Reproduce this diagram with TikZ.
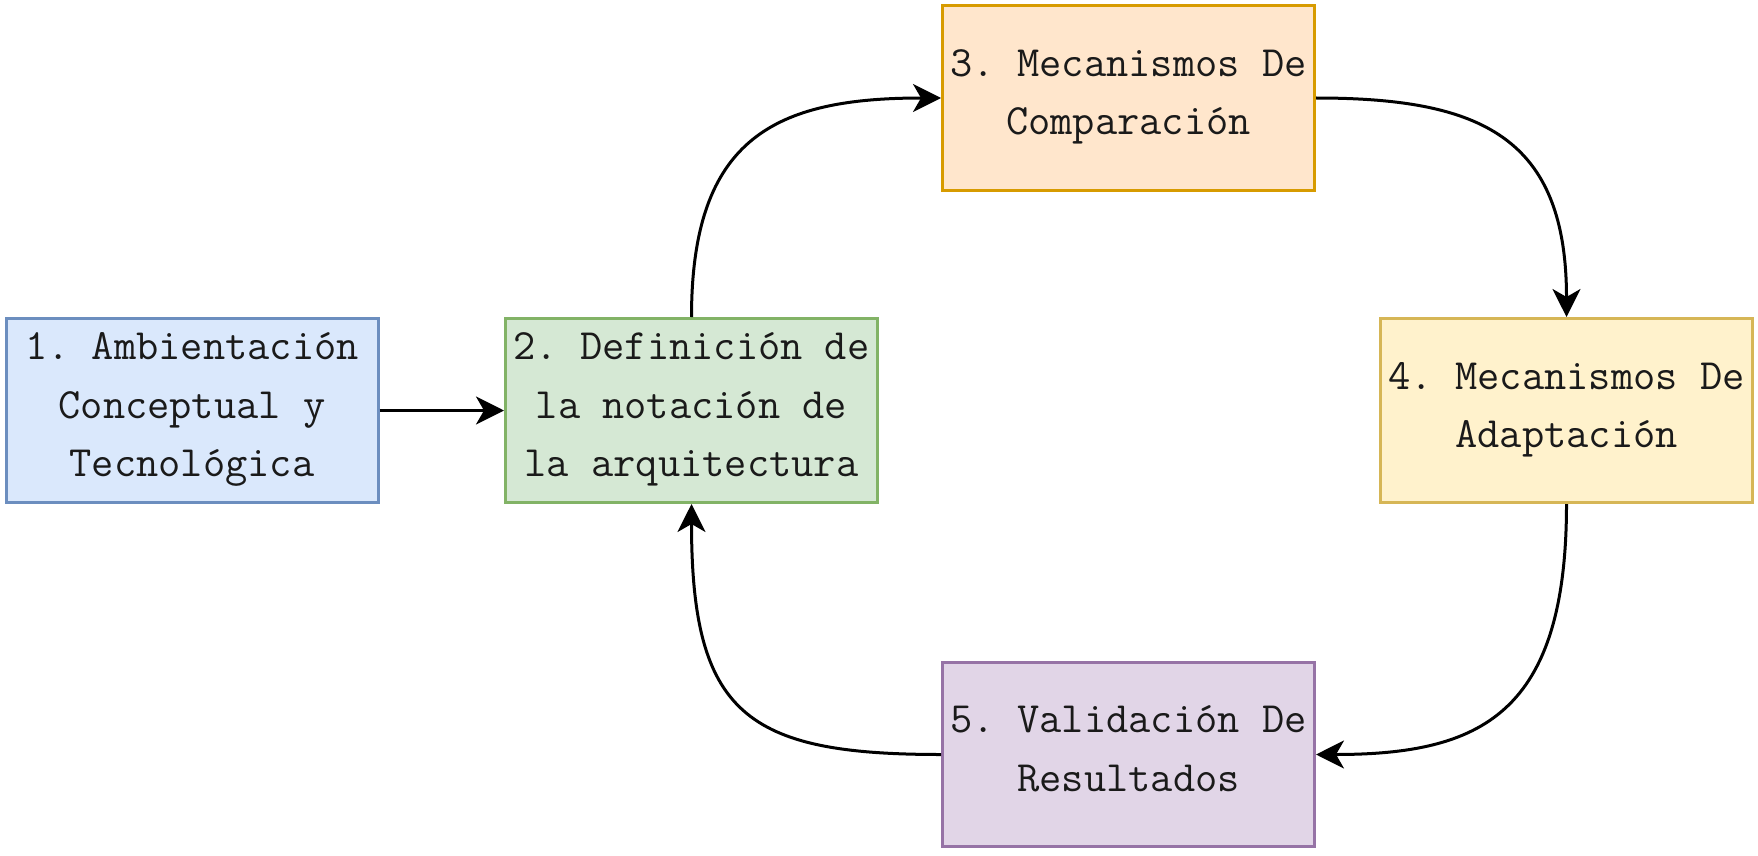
\documentclass[tikz,border=0pt]{standalone}
\usepackage{fontspec}
\usetikzlibrary{arrows.meta}
\definecolor{f1}{HTML}{DAE8FC}\definecolor{s1}{HTML}{6C8EBF}
\definecolor{f2}{HTML}{D5E8D4}\definecolor{s2}{HTML}{82B366}
\definecolor{f3}{HTML}{FFE6CC}\definecolor{s3}{HTML}{D79B00}
\definecolor{f4}{HTML}{FFF2CC}\definecolor{s4}{HTML}{D6B656}
\definecolor{f5}{HTML}{E1D5E7}\definecolor{s5}{HTML}{9673A6}
\definecolor{txt}{HTML}{1A1A1A}
\newcommand\mystrutbox{\rule[-11.5pt]{0pt}{58.5pt}}
\frenchspacing
\tikzset{
  stepbox/.style={draw, line width=3pt, inner sep=0pt, minimum width=372pt, minimum height=184pt,
    align=center, text=txt, font=\ttfamily\frenchspacing\fontsize{43.2}{58.5}\selectfont,
    execute at begin node=\mystrutbox, execute at end node=\mystrutbox},
  conn/.style={line width=3pt, -{Stealth[length=28pt,width=28pt,inset=8pt]}}
}
\begin{document}
\begin{tikzpicture}[x=1pt,y=-1pt]
\useasboundingbox (0,0) rectangle (1758,856);
\node[stepbox, fill=f1, draw=s1] (b1) at (192,410.5) {1. Ambientación\\Conceptual y\\Tecnológica};
\node[stepbox, fill=f2, draw=s2] (b2) at (691.5,410.5) {2. Definición de\\la notación de\\la arquitectura};
\node[stepbox, fill=f3, draw=s3] (b3) at (1128.5,98) {3. Mecanismos De\\Comparación};
\node[stepbox, fill=f4, draw=s4] (b4) at (1566.5,410.5) {4. Mecanismos De\\Adaptación};
\node[stepbox, fill=f5, draw=s5] (b5) at (1128.5,754.5) {5. Validación De\\Resultados};
\draw[conn] (b1) -- (b2);
\draw[conn] (b2.north) .. controls (691.5,137) and (776,98) .. (b3.west);
\draw[conn] (b3.east) .. controls (1481,98) and (1566.5,137) .. (b4.north);
\draw[conn] (b4.south) .. controls (1566.5,714) and (1481,754.5) .. (b5.east);
\draw[conn] (b5.west) .. controls (746,754.5) and (691.5,714) .. (b2.south);
\end{tikzpicture}
\end{document}
